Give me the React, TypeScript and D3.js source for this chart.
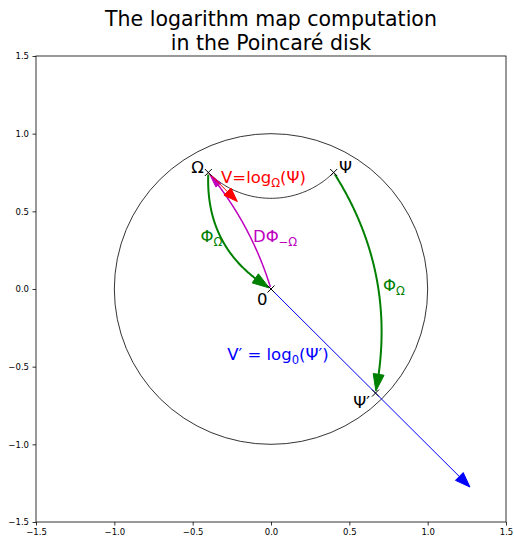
import React, { useEffect, useRef } from 'react';
import * as d3 from 'd3';

// ---- data ----
const axisDomain: [number, number] = [-1.5, 1.5];
const tickValues = [-1.5, -1.0, -0.5, 0.0, 0.5, 1.0, 1.5];
const titleLines = ['The logarithm map computation', 'in the Poincaré disk'];

const omega: [number, number] = [-0.4, 0.75];
const psi: [number, number] = [0.4, 0.75];
const origin: [number, number] = [0, 0];
const psiPrime: [number, number] = [0.667, -0.67];
const vOmega: [number, number] = [0.185, -0.187]; // V = log_Ω(Ψ)
const vPrime: [number, number] = [1.27, -1.275]; // V' = log_0(Ψ')
const markerPoints = [omega, psi, origin, psiPrime];

const W = 514;
const H = 543;
const FONT = 'DejaVu Sans';

type P = [number, number];

function orthoCircle(a: P, b: P) {
  const r1 = (a[0] * a[0] + a[1] * a[1] + 1) / 2;
  const r2 = (b[0] * b[0] + b[1] * b[1] + 1) / 2;
  const det = a[0] * b[1] - a[1] * b[0];
  const cx = (r1 * b[1] - r2 * a[1]) / det;
  const cy = (a[0] * r2 - b[0] * r1) / det;
  return { cx, cy, r: Math.sqrt(cx * cx + cy * cy - 1) };
}

function polyLen(pts: P[]) {
  const cum = [0];
  for (let i = 1; i < pts.length; i++) {
    cum.push(cum[i - 1] + Math.hypot(pts[i][0] - pts[i - 1][0], pts[i][1] - pts[i - 1][1]));
  }
  return cum;
}
function pointAt(pts: P[], cum: number[], s: number): P {
  for (let i = 1; i < pts.length; i++) {
    if (cum[i] >= s) {
      const f = (s - cum[i - 1]) / (cum[i] - cum[i - 1] || 1);
      return [pts[i - 1][0] + f * (pts[i][0] - pts[i - 1][0]), pts[i - 1][1] + f * (pts[i][1] - pts[i - 1][1])];
    }
  }
  return pts[pts.length - 1];
}
function sub(pts: P[], cum: number[], s0: number, s1: number): P[] {
  const out: P[] = [pointAt(pts, cum, s0)];
  for (let i = 0; i < pts.length; i++) if (cum[i] > s0 && cum[i] < s1) out.push(pts[i]);
  out.push(pointAt(pts, cum, s1));
  return out;
}
function headPoly(tip: P, base: P, w: number) {
  const dx = tip[0] - base[0];
  const dy = tip[1] - base[1];
  const l = Math.hypot(dx, dy) || 1;
  const nx = -dy / l;
  const ny = dx / l;
  return [tip, [base[0] + (nx * w) / 2, base[1] + (ny * w) / 2], [base[0] - (nx * w) / 2, base[1] - (ny * w) / 2]]
    .map((p) => p.join(','))
    .join(' ');
}

type Part = { t: string; sub?: boolean };
function MathText({ x, y, parts, color, size, anchor = 'start' }: { x: number; y: number; parts: Part[]; color: string; size: number; anchor?: string }) {
  const shift = size * 0.24;
  let cur = 0;
  return (
    <text x={x} y={y} fill={color} fontSize={size} fontFamily={FONT} textAnchor={anchor}>
      {parts.map((p, i) => {
        const target = p.sub ? shift : 0;
        const dy = target - cur;
        cur = target;
        return (
          <tspan key={i} dy={dy} fontSize={p.sub ? size * 0.7 : size}>
            {p.t}
          </tspan>
        );
      })}
    </text>
  );
}

export default function App() {
  const axRef = useRef<SVGGElement>(null);
  const x = d3.scaleLinear().domain(axisDomain).range([36, 506]);
  const y = d3.scaleLinear().domain(axisDomain).range([522, 56]);
  const px = (p: P): P => [x(p[0]), y(p[1])];

  useEffect(() => {
    const g = d3.select(axRef.current);
    g.selectAll('*').remove();
    const fmt = d3.format('.1f');
    const xa = d3.axisBottom(x).tickValues(tickValues).tickFormat(fmt as any).tickSize(3.5).tickSizeOuter(0).tickPadding(3.5);
    const ya = d3.axisLeft(y).tickValues(tickValues).tickFormat(fmt as any).tickSize(3.5).tickSizeOuter(0).tickPadding(3.5);
    g.append('g').attr('transform', `translate(0,${y(-1.5)})`).call(xa);
    g.append('g').attr('transform', `translate(${x(-1.5)},0)`).call(ya);
    g.selectAll('.domain').remove();
    g.selectAll('text').attr('font-family', FONT).attr('font-size', 8.5).attr('fill', '#000');
    g.selectAll('line').attr('stroke', '#000').attr('stroke-width', 0.8);
  }, []);

  const ucx = x(0);
  const ucy = y(0);
  const rx = x(1) - x(0);
  const ry = y(0) - y(1);

  const oc = orthoCircle(omega, psi);
  const a0 = Math.atan2(omega[1] - oc.cy, omega[0] - oc.cx);
  let a1 = Math.atan2(psi[1] - oc.cy, psi[0] - oc.cx);
  if (a1 - a0 > Math.PI) a1 -= 2 * Math.PI;
  if (a0 - a1 > Math.PI) a1 += 2 * Math.PI;
  const geo: P[] = d3.range(0, 101).map((i) => {
    const a = a0 + ((a1 - a0) * i) / 100;
    return [oc.cx + oc.r * Math.cos(a), oc.cy + oc.r * Math.sin(a)];
  });
  const line = d3.line<P>().x((d) => x(d[0])).y((d) => y(d[1]));
  const pxLine = d3.line<P>();

  function curved(from: P, to: P, rad: number, headLen: number, headW: number) {
    const p0 = px(from);
    const p2 = px(to);
    const dx = p2[0] - p0[0];
    const dy = p2[1] - p0[1];
    const c: P = [(p0[0] + p2[0]) / 2 - rad * dy, (p0[1] + p2[1]) / 2 + rad * dx];
    const pts: P[] = d3.range(0, 201).map((i) => {
      const t = i / 200;
      const u = 1 - t;
      return [u * u * p0[0] + 2 * u * t * c[0] + t * t * p2[0], u * u * p0[1] + 2 * u * t * c[1] + t * t * p2[1]];
    });
    const cum = polyLen(pts);
    const L = cum[cum.length - 1];
    const shrink = 2;
    const tip = pointAt(pts, cum, L - shrink);
    const base = pointAt(pts, cum, L - shrink - headLen);
    return {
      d: pxLine(sub(pts, cum, shrink, L - shrink - headLen + 1)) || '',
      head: headPoly(tip, base, headW),
    };
  }

  function straight(from: P, vec: P, headLen: number, headW: number) {
    const p0 = px(from);
    const tip = px([from[0] + vec[0], from[1] + vec[1]]);
    const l = Math.hypot(tip[0] - p0[0], tip[1] - p0[1]);
    const ux = (tip[0] - p0[0]) / l;
    const uy = (tip[1] - p0[1]) / l;
    const base: P = [tip[0] - ux * headLen, tip[1] - uy * headLen];
    return { d: pxLine([p0, [base[0] + ux, base[1] + uy]]) || '', head: headPoly(tip, base, headW) };
  }

  const g1 = curved(omega, origin, 0.3, 17, 11);
  const g2 = curved(psi, psiPrime, -0.2, 17, 11);
  const mg = curved(origin, omega, 0.1, 14, 6);
  const red = straight(omega, vOmega, 14, 10);
  const blue = straight(origin, vPrime, 15, 11);

  const green = '#008000';
  const magenta = '#bf00bf';
  const LS = 16.5;

  return (
    <svg width={W} height={H} style={{ position: 'absolute', left: 0, top: 0, background: '#fff' }}>
      <rect x={0} y={0} width={W} height={H} fill="#fff" />
      <text x={x(0)} y={y(1.5) - 6 - 24} textAnchor="middle" fontFamily={FONT} fontSize={20.5} fill="#000">
        {titleLines[0]}
      </text>
      <text x={x(0)} y={y(1.5) - 6} textAnchor="middle" fontFamily={FONT} fontSize={20.5} fill="#000">
        {titleLines[1]}
      </text>

      <ellipse cx={ucx} cy={ucy} rx={rx} ry={ry} fill="none" stroke="#000" strokeWidth={0.8} />
      <path d={line(geo) || ''} fill="none" stroke="#000" strokeWidth={0.8} />

      <path d={blue.d} fill="none" stroke="#0000ff" strokeWidth={1} />
      <polygon points={blue.head} fill="#0000ff" stroke="#0000ff" strokeWidth={1} />

      <path d={mg.d} fill="none" stroke={magenta} strokeWidth={1.5} />
      <polygon points={mg.head} fill={magenta} stroke={magenta} strokeWidth={1} />

      <path d={red.d} fill="none" stroke="#ff0000" strokeWidth={1} />
      <polygon points={red.head} fill="#ff0000" stroke="#ff0000" strokeWidth={1} />

      <path d={g1.d} fill="none" stroke={green} strokeWidth={2} />
      <polygon points={g1.head} fill={green} stroke={green} strokeWidth={1} />
      <path d={g2.d} fill="none" stroke={green} strokeWidth={2} />
      <polygon points={g2.head} fill={green} stroke={green} strokeWidth={1} />

      {markerPoints.map((p, i) => {
        const [cx, cy] = px(p);
        const s = 3.5;
        return (
          <path key={i} d={`M${cx - s},${cy - s}L${cx + s},${cy + s}M${cx - s},${cy + s}L${cx + s},${cy - s}`} stroke="#000" strokeWidth={1} />
        );
      })}

      <MathText x={x(-0.428)} y={y(0.747)} parts={[{ t: 'Ω' }]} color="#000" size={LS} anchor="end" />
      <MathText x={x(0.434)} y={y(0.747)} parts={[{ t: 'Ψ' }]} color="#000" size={LS} />
      <MathText x={x(-0.319)} y={y(0.683)} parts={[{ t: 'V=log' }, { t: 'Ω', sub: true }, { t: '(Ψ)' }]} color="#ff0000" size={LS} />
      <MathText x={x(-0.45)} y={y(0.3)} parts={[{ t: 'Φ' }, { t: 'Ω', sub: true }]} color={green} size={LS} />
      <MathText x={x(-0.115)} y={y(0.3)} parts={[{ t: 'DΦ' }, { t: '−Ω', sub: true }]} color={magenta} size={LS} />
      <MathText x={x(-0.09)} y={y(-0.1)} parts={[{ t: '0' }]} color="#000" size={LS} />
      <MathText x={x(-0.28)} y={y(-0.457)} parts={[{ t: 'V′ = log' }, { t: '0', sub: true }, { t: '(Ψ′)' }]} color="#0000ff" size={LS} />
      <MathText x={x(0.632)} y={y(-0.766)} parts={[{ t: 'Ψ′' }]} color="#000" size={LS} anchor="end" />
      <MathText x={x(0.715)} y={y(-0.01)} parts={[{ t: 'Φ' }, { t: 'Ω', sub: true }]} color={green} size={LS} />

      <g ref={axRef} />
      <rect x={x(-1.5)} y={y(1.5)} width={x(1.5) - x(-1.5)} height={y(-1.5) - y(1.5)} fill="none" stroke="#000" strokeWidth={0.8} />
    </svg>
  );
}
